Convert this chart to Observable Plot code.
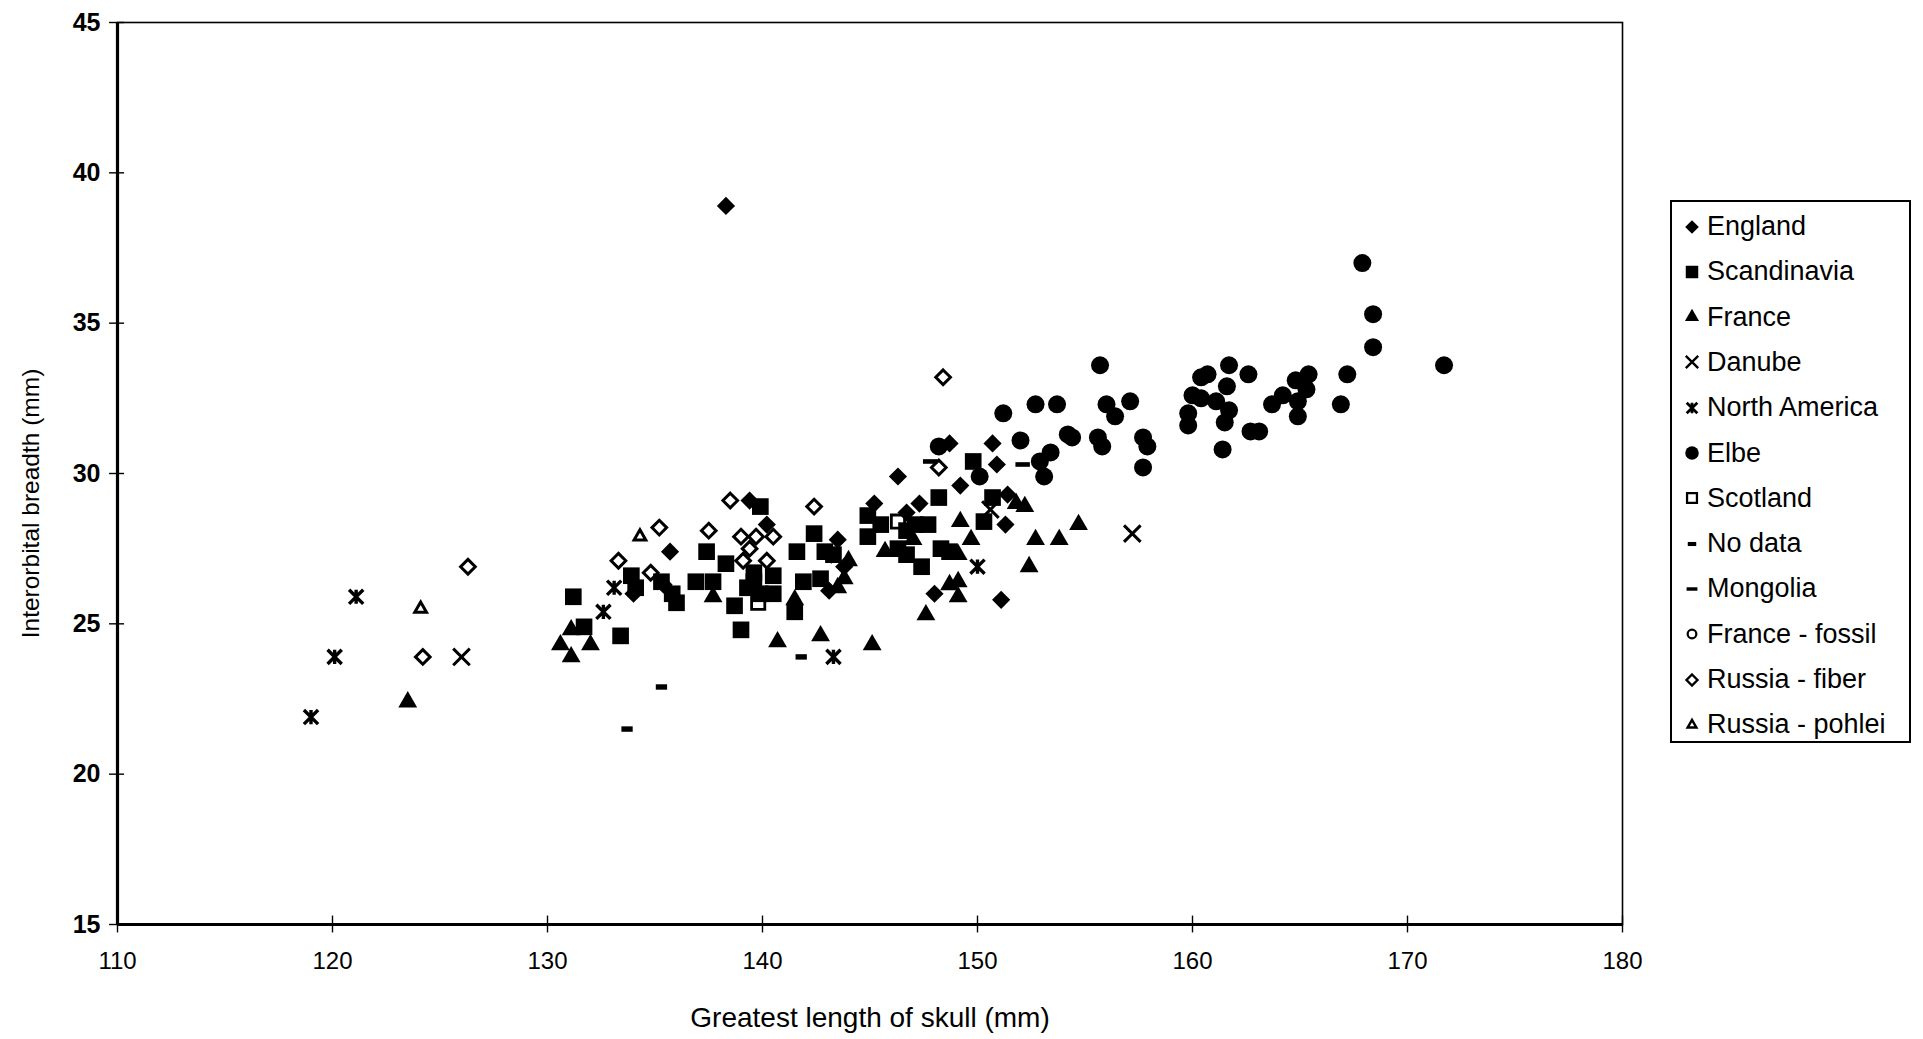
<!DOCTYPE html>
<html><head><meta charset="utf-8">
<script src="https://cdn.jsdelivr.net/npm/d3@7"></script>
<script src="https://cdn.jsdelivr.net/npm/@observablehq/plot@0.6"></script>
<style>
body{margin:0;background:#fff;font-family:"Liberation Sans",Arial,sans-serif;color:#000;}
#wrap{position:relative;width:1923px;height:1039px;overflow:hidden;}
#chart{position:absolute;left:0;top:0;}
#legend{position:absolute;left:1670px;top:200px;width:241px;height:543px;border:2px solid #000;box-sizing:border-box;background:#fff;}
.item{position:absolute;left:0;height:40px;display:flex;align-items:center;font-size:27px;white-space:nowrap;}
.item svg{margin-left:9px;margin-right:4px;}
</style></head>
<body><div id="wrap"><div id="chart"></div><div id="legend"></div></div>
<script>
const xTicks = [110,120,130,140,150,160,170,180];
const yTicks = [15,20,25,30,35,40,45];
const categories = ["England","Scandinavia","France","Danube","North America","Elbe","Scotland","No data","Mongolia","France - fossil","Russia - fiber","Russia - pohlei"];

const england = [[138.3,38.9],[135.7,27.4],[134.0,26.0],[135.4,26.3],[139.4,29.1],[140.2,28.3],[143.5,27.8],[143.2,27.3],[143.1,26.1],[145.2,29.0],[146.3,29.9],[147.3,29.0],[146.7,28.7],[148.7,31.0],[150.7,31.0],[150.9,30.3],[149.2,29.6],[151.3,28.3],[151.4,29.3],[148.0,26.0],[151.1,25.8],[143.8,26.9]];
const scandinavia = [[131.2,25.9],[131.7,24.9],[133.4,24.6],[133.9,26.6],[134.1,26.2],[135.3,26.4],[135.8,26.0],[136.0,25.7],[137.4,27.4],[138.3,27.0],[136.9,26.4],[137.7,26.4],[138.7,25.6],[139.0,24.8],[139.3,26.2],[139.6,26.7],[139.6,26.4],[140.5,26.6],[140.5,26.0],[139.9,26.0],[139.9,28.9],[141.6,27.4],[142.4,28.0],[142.9,27.4],[143.3,27.3],[141.9,26.4],[142.7,26.5],[141.5,25.4],[144.9,28.6],[145.5,28.3],[144.9,27.9],[146.7,28.1],[147.1,28.3],[147.7,28.3],[146.3,27.5],[146.7,27.3],[147.4,26.9],[148.3,27.5],[148.7,27.4],[148.2,29.2],[149.8,30.4],[150.7,29.2],[150.3,28.4]];
const france = [[123.5,22.4],[131.1,24.8],[130.6,24.3],[132.0,24.3],[131.1,23.9],[137.7,25.9],[140.7,24.4],[142.7,24.6],[141.5,25.8],[145.1,24.3],[147.6,25.3],[149.1,25.9],[148.7,26.3],[149.1,26.4],[149.1,27.3],[149.2,28.4],[149.7,27.8],[152.4,26.9],[152.7,27.8],[153.8,27.8],[154.7,28.3],[151.8,29.0],[152.2,28.9],[147.0,27.8],[145.7,27.4],[144.0,27.1],[143.8,26.5],[143.5,26.2]];
const danube = [[126.0,23.9],[157.2,28.0],[150.6,28.8]];
const northAmerica = [[119.0,21.9],[120.1,23.9],[121.1,25.9],[132.6,25.4],[133.1,26.2],[143.3,23.9],[150.0,26.9]];
const elbe = [[155.7,33.6],[156.0,32.3],[156.4,31.9],[157.1,32.4],[155.6,31.2],[155.8,30.9],[157.7,31.2],[157.9,30.9],[157.7,30.2],[160.4,33.2],[160.7,33.3],[161.7,33.6],[162.6,33.3],[160.0,32.6],[160.4,32.5],[161.6,32.9],[161.1,32.4],[161.7,32.1],[159.8,32.0],[159.8,31.6],[161.5,31.7],[161.4,30.8],[162.7,31.4],[163.1,31.4],[163.7,32.3],[164.2,32.6],[164.8,33.1],[165.4,33.3],[165.3,32.8],[164.9,32.4],[164.9,31.9],[167.2,33.3],[166.9,32.3],[167.9,37.0],[168.4,35.3],[168.4,34.2],[171.7,33.6],[151.2,32.0],[152.7,32.3],[153.7,32.3],[152.0,31.1],[154.2,31.3],[154.4,31.2],[148.2,30.9],[153.4,30.7],[152.9,30.4],[153.1,29.9],[150.1,29.9]];
const scotland = [[139.8,25.7],[146.3,28.4]];
const noData = [[133.7,21.5],[135.3,22.9],[141.8,23.9]];
const mongolia = [[147.8,30.4],[152.1,30.3]];
const franceFossil = [];
const russiaFiber = [[126.3,26.9],[124.2,23.9],[133.3,27.1],[134.8,26.7],[135.2,28.2],[137.5,28.1],[138.5,29.1],[139.0,27.9],[139.7,27.9],[140.5,27.9],[139.4,27.5],[139.1,27.1],[140.2,27.1],[142.4,28.9],[148.2,30.2],[148.4,33.2]];
const russiaPohlei = [[124.1,25.5],[134.3,27.9]];

// custom symbols
const starX = {draw(ctx, size){const r = Math.sqrt(size)*0.4; ctx.moveTo(-r,-r); ctx.lineTo(r,r); ctx.moveTo(-r,r); ctx.lineTo(r,-r); ctx.moveTo(0,-r); ctx.lineTo(0,r);}};
const dashShort = {draw(ctx, size){const w = Math.sqrt(size)*0.55, h = w*0.48; ctx.rect(-w,-h,2*w,2*h);}};
const dashLong = {draw(ctx, size){const w = Math.sqrt(size)*0.6, h = w*0.32; ctx.rect(-w,-h,2*w,2*h);}};

const seriesData = [england, scandinavia, france, danube, northAmerica, elbe, scotland, noData, mongolia, franceFossil, russiaFiber, russiaPohlei];
const seriesStyle = [
  {symbol:"diamond2", d3s:d3.symbolDiamond2, r:8.2, filled:true},
  {symbol:"square", d3s:d3.symbolSquare, r:9.4, filled:true},
  {symbol:"triangle", d3s:d3.symbolTriangle, r:7, filled:true},
  {symbol:"times", d3s:d3.symbolTimes, r:7.6, filled:false, sw:3},
  {symbol:starX, d3s:starX, r:10, filled:false, sw:3.4},
  {symbol:"circle", d3s:d3.symbolCircle, r:9, filled:true},
  {symbol:"square2", d3s:d3.symbolSquare2, r:8.4, filled:false, sw:2.8},
  {symbol:dashShort, d3s:dashShort, r:5.8, filled:true},
  {symbol:dashLong, d3s:dashLong, r:6.8, filled:true},
  {symbol:"circle", d3s:d3.symbolCircle, r:5.8, filled:false, sw:2.8},
  {symbol:"diamond2", d3s:d3.symbolDiamond2, r:6.6, filled:false, sw:3},
  {symbol:"triangle2", d3s:d3.symbolTriangle2, r:5.6, filled:false, sw:3}
];

const dotMarks = seriesData.map((data, i) => {
  const s = seriesStyle[i];
  return Plot.dot(data, {
    x: d => d[0], y: d => d[1], symbol: s.symbol, r: s.r,
    fill: s.filled ? "black" : "none",
    stroke: s.filled ? "none" : "black",
    strokeWidth: s.filled ? 0 : s.sw
  });
});

const chart = Plot.plot({
  width: 1632, height: 1039,
  marginLeft: 117, marginRight: 10, marginTop: 22, marginBottom: 115,
  x: {domain: [110, 180], label: null},
  y: {domain: [15, 45], label: null},
  style: {fontFamily: "'Liberation Sans', Arial, sans-serif", color: "black", background: "white", overflow: "visible"},
  marks: [
    Plot.frame({stroke: "black", strokeWidth: 1.6}),
    Plot.ruleX([110], {stroke: "black", strokeWidth: 3.2}),
    Plot.ruleY([15], {stroke: "black", strokeWidth: 3.2}),
    Plot.ruleY(yTicks, {y: d => d, x1: 109.63, x2: 110.33, stroke: "black", strokeWidth: 1.4}),
    Plot.ruleX(xTicks, {x: d => d, y1: 14.72, y2: 15.28, stroke: "black", strokeWidth: 1.4}),
    Plot.axisY(yTicks, {tickSize: 0, tickPadding: 17, fontSize: 25, fontWeight: "bold", label: null}),
    Plot.axisX(xTicks, {tickSize: 0, tickPadding: 27, fontSize: 24, label: null}),
    Plot.text(["Greatest length of skull (mm)"], {frameAnchor: "bottom", dy: 94, fontSize: 28, lineAnchor: "middle", textAnchor: "middle"}),
    Plot.text(["Interorbital breadth (mm)"], {frameAnchor: "left", dx: -86, dy: 30, rotate: -90, fontSize: 24.5, lineAnchor: "middle", textAnchor: "middle"}),
    ...dotMarks
  ]
});
document.getElementById("chart").appendChild(chart);

// legend
const legend = document.getElementById("legend");
categories.forEach((name, i) => {
  const s = seriesStyle[i];
  const item = document.createElement("div");
  item.className = "item";
  item.style.top = (4.5 + i * 45.3) + "px";
  const rr = s.r * 0.75;
  const path = d3.symbol(s.d3s, Math.PI * rr * rr)();
  const svgNS = "http://www.w3.org/2000/svg";
  const svg = document.createElementNS(svgNS, "svg");
  svg.setAttribute("width", 22); svg.setAttribute("height", 22);
  svg.setAttribute("viewBox", "-11 -11 22 22");
  const p = document.createElementNS(svgNS, "path");
  p.setAttribute("d", path);
  p.setAttribute("fill", s.filled ? "black" : "none");
  p.setAttribute("stroke", s.filled ? "none" : "black");
  p.setAttribute("stroke-width", s.filled ? 0 : Math.max(2, s.sw * 0.8));
  svg.appendChild(p);
  item.appendChild(svg);
  const t = document.createElement("span");
  t.textContent = name;
  item.appendChild(t);
  legend.appendChild(item);
});
</script>
</body></html>
